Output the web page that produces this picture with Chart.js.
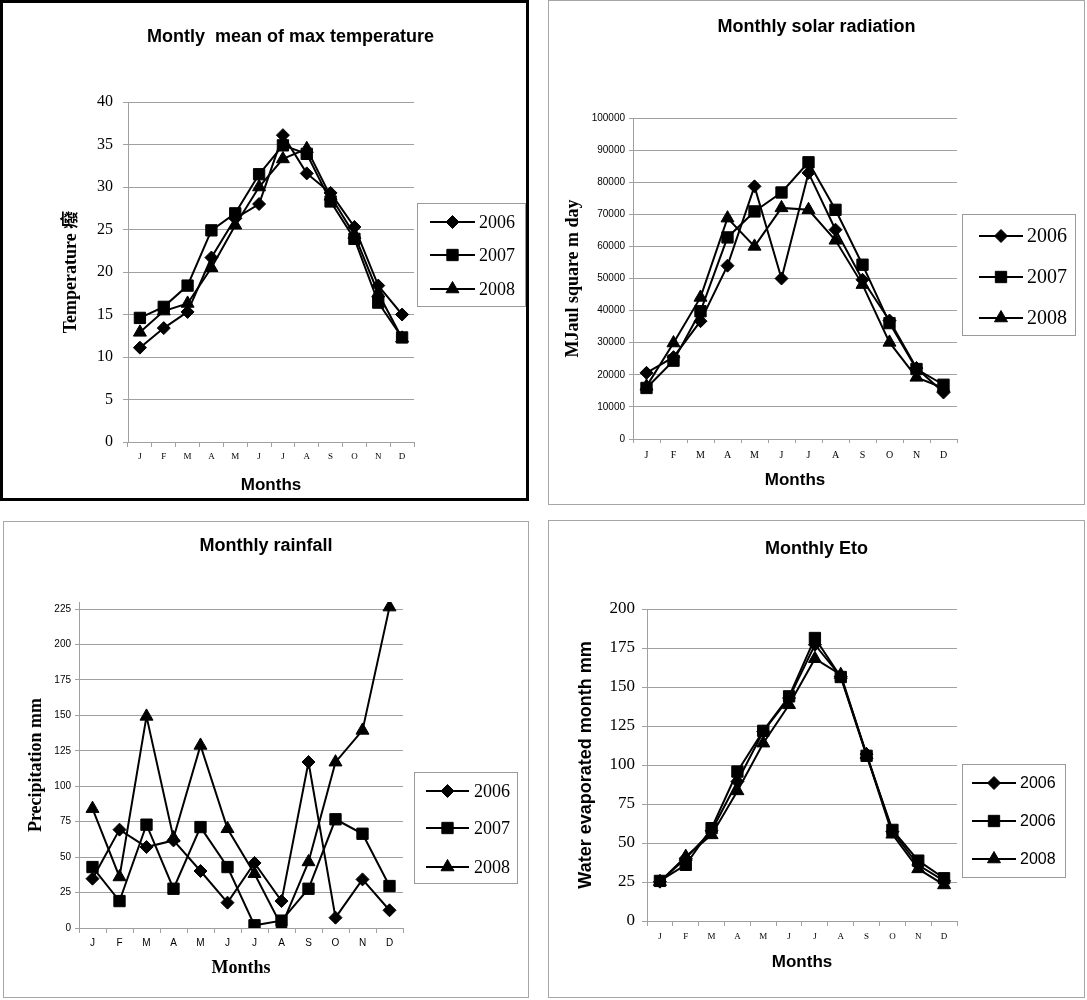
<!DOCTYPE html>
<html>
<head>
<meta charset="utf-8">
<script src="https://cdn.jsdelivr.net/npm/chart.js@4.4.1/dist/chart.umd.min.js"></script>
<style>
body { margin: 0; background: #fff; }
.panel { position: absolute; box-sizing: border-box; border: 1px solid #a6a6a6; background: #fff; }
.panel canvas { position: absolute; left: 0; top: 0; }
</style>
</head>
<body>
<div class="panel" style="left:0;top:0;width:529px;height:501px;border:3px solid #000"><canvas id="c1" width="523" height="495"></canvas></div>
<div class="panel" style="left:548px;top:0;width:537px;height:505px"><canvas id="c2" width="535" height="503"></canvas></div>
<div class="panel" style="left:3px;top:521px;width:526px;height:477px"><canvas id="c3" width="524" height="475"></canvas></div>
<div class="panel" style="left:548px;top:520px;width:537px;height:478px"><canvas id="c4" width="535" height="476"></canvas></div>
<script>
// datos
const meses = ['J', 'F', 'M', 'A', 'M', 'J', 'J', 'A', 'S', 'O', 'N', 'D'];

const temp2006 = [11.1, 13.4, 15.3, 21.7, 26.3, 28.0, 36.1, 31.6, 29.3, 25.3, 18.4, 15.0];
const temp2007 = [14.6, 15.9, 18.4, 24.9, 26.9, 31.5, 34.9, 33.9, 28.3, 23.9, 16.4, 12.3];
const temp2008 = [12.9, 15.4, 16.3, 20.5, 25.5, 30.0, 33.3, 34.5, 28.9, 24.4, 17.5, 12.2];

const solar2006 = [20600, 25500, 36700, 54000, 78700, 50000, 82900, 65200, 49600, 36900, 22100, 14500];
const solar2007 = [15900, 24400, 39800, 62800, 70900, 76800, 86200, 71400, 54300, 36100, 21800, 16900];
const solar2008 = [16400, 29900, 44100, 68800, 60000, 72000, 71400, 61900, 48100, 30100, 19200, 15900];

const lluvia2006 = [34.8, 69.4, 57.1, 61.8, 40.2, 17.9, 45.9, 19.0, 117.1, 7.3, 34.3, 12.5];
const lluvia2007 = [43, 19, 72.9, 27.7, 71.2, 43, 1.9, 5.2, 27.7, 76.7, 66.5, 29.6];
const lluvia2008 = [84.2, 36, 149.3, 63.5, 128.8, 70, 38.3, 1.5, 46.6, 117, 139.4, 226.4];

const eto2006 = [25.2, 40.2, 57.8, 89.4, 121.5, 142.9, 177.1, 156.8, 107, 57.3, 35.9, 25.7];
const eto2006b = [25.7, 36, 59.5, 95.8, 121.9, 144, 181.4, 156.4, 105.9, 58.4, 38.7, 27.4];
const eto2008 = [25.2, 41.3, 55.2, 83.4, 114, 138.6, 168.1, 157.9, 106.5, 55.6, 33.4, 23.1];

const SANS = "'Liberation Sans', Arial, sans-serif";
const SERIF = "'Liberation Serif', 'Times New Roman', 'Noto Sans CJK SC', serif";
const GRIS = '#a0a0a0';

const estilos = ['rectRot', 'rect', 'triangle'];
const radios = [6.5, 8, 7.5];

function marcador(ctx, estilo, r, x, y) {
    ctx.beginPath();
    if (estilo === 'rectRot') {
        ctx.moveTo(x, y - r); ctx.lineTo(x + r, y); ctx.lineTo(x, y + r); ctx.lineTo(x - r, y);
    } else if (estilo === 'rect') {
        const s = r * Math.SQRT1_2;
        ctx.rect(x - s, y - s, 2 * s, 2 * s);
    } else {
        ctx.moveTo(x, y - r);
        ctx.lineTo(x + r * Math.sin(2 * Math.PI / 3), y - r * Math.cos(2 * Math.PI / 3));
        ctx.lineTo(x + r * Math.sin(4 * Math.PI / 3), y - r * Math.cos(4 * Math.PI / 3));
    }
    ctx.closePath();
    ctx.fill();
    ctx.stroke();
}

// leyenda con caja, al estilo de Excel
const leyendaCaja = {
    id: 'leyendaCaja',
    afterDraw(chart, args, o) {
        const ctx = chart.ctx;
        ctx.save();
        ctx.strokeStyle = '#9a9a9a';
        ctx.lineWidth = 1;
        ctx.strokeRect(o.x + 0.5, o.y + 0.5, o.w, o.h);
        ctx.font = o.font;
        ctx.textBaseline = 'middle';
        chart.data.datasets.forEach((ds, i) => {
            const y = o.filas[i];
            ctx.strokeStyle = '#000';
            ctx.fillStyle = '#000';
            ctx.lineWidth = 2;
            ctx.beginPath();
            ctx.moveTo(o.x1, y);
            ctx.lineTo(o.x2, y);
            ctx.stroke();
            ctx.lineWidth = 1;
            marcador(ctx, ds.pointStyle, ds.pointRadius, (o.x1 + o.x2) / 2, y);
            ctx.fillText(ds.label, o.tx, y + 1);
        });
        ctx.restore();
    }
};

function crearGrafica(id, L, series) {
    const h = L.h, w = L.w;
    const lhT = L.titulo.size * 1.2;
    const lhY = L.tituloY.size * 1.2;
    const lhX = L.tituloX.size * 1.2;
    return new Chart(document.getElementById(id), {
        type: 'line',
        data: {
            labels: meses,
            datasets: series.map((s, i) => ({
                label: s.label,
                data: s.data,
                borderColor: '#000',
                backgroundColor: '#000',
                borderWidth: 2,
                pointStyle: estilos[i],
                pointRadius: radios[i],
                pointBackgroundColor: '#000',
                pointBorderColor: '#000',
                pointBorderWidth: 1,
                tension: 0,
                fill: false
            }))
        },
        options: {
            responsive: false,
            animation: false,
            events: [],
            layout: { padding: { left: L.padL, right: 0, top: 0, bottom: 0 } },
            plugins: {
                legend: { display: false },
                tooltip: { enabled: false },
                title: {
                    display: true,
                    text: L.titulo.text,
                    color: '#000',
                    font: { family: SANS, size: L.titulo.size, weight: 'bold' },
                    padding: { top: L.titulo.cy - lhT / 2, bottom: L.area.t - L.titulo.cy - lhT / 2 }
                },
                leyendaCaja: L.leyenda
            },
            scales: {
                x: {
                    type: 'category',
                    offset: true,
                    afterFit: (s) => { s.height = h - L.area.b; },
                    grid: { display: true, offset: true, drawOnChartArea: false, drawTicks: true, tickLength: L.ticksX.tl, color: GRIS },
                    border: { display: true, color: GRIS, width: 1 },
                    ticks: { color: '#000', padding: L.ticksX.pad, maxRotation: 0, autoSkip: false, font: { family: L.ticksX.family, size: L.ticksX.size } },
                    title: {
                        display: true, text: L.tituloX.text, color: '#000',
                        font: { family: L.tituloX.family, size: L.tituloX.size, weight: 'bold' },
                        padding: { top: 0, bottom: h - L.tituloX.cy - lhX / 2 }
                    }
                },
                y: {
                    min: L.ejeY.min,
                    max: L.ejeY.max,
                    afterFit: (s) => { s.width = L.area.l - L.padL; },
                    grid: { color: GRIS, tickLength: L.ticksY.tl, drawTicks: true },
                    border: { display: true, color: GRIS, width: 1 },
                    ticks: {
                        stepSize: L.ejeY.step,
                        includeBounds: false,
                        color: '#000',
                        padding: L.ticksY.pad,
                        font: { family: L.ticksY.family, size: L.ticksY.size },
                        callback: (v) => String(v)
                    },
                    title: {
                        display: true, text: L.tituloY.text, color: '#000',
                        font: { family: L.tituloY.family, size: L.tituloY.size, weight: 'bold' },
                        padding: { top: L.tituloY.cx - L.padL - lhY / 2, bottom: 0 }
                    }
                },
                yr: {
                    position: 'right',
                    display: true,
                    afterFit: (s) => { s.width = w - L.area.r; },
                    grid: { display: false, drawTicks: false },
                    border: { display: false },
                    ticks: { display: false }
                }
            }
        },
        plugins: [leyendaCaja]
    });
}

crearGrafica('c1', {
    w: 523, h: 495, padL: 52,
    area: { l: 125, r: 411, t: 99, b: 439 },
    titulo: { text: 'Montly  mean of max temperature', size: 18, cy: 34 },
    tituloY: { text: 'Temperature 癈', family: SERIF, size: 18, cx: 68 },
    tituloX: { text: 'Months', family: SANS, size: 17, cy: 482 },
    ticksY: { family: SERIF, size: 16, tl: 5, pad: 10 },
    ticksX: { family: SERIF, size: 9, tl: 5, pad: 4 },
    ejeY: { min: 0, max: 40, step: 5 },
    leyenda: { x: 414, y: 200, w: 108, h: 103, filas: [219, 252, 286], x1: 427, x2: 472, tx: 476, font: '18px ' + SERIF }
}, [
    { label: '2006', data: temp2006 },
    { label: '2007', data: temp2007 },
    { label: '2008', data: temp2008 }
]);

crearGrafica('c2', {
    w: 535, h: 503, padL: 0,
    area: { l: 84, r: 408, t: 117, b: 438 },
    titulo: { text: 'Monthly solar radiation', size: 18, cy: 26 },
    tituloY: { text: 'MJaul square m day', family: SERIF, size: 18, cx: 24 },
    tituloX: { text: 'Months', family: SANS, size: 17, cy: 479 },
    ticksY: { family: SANS, size: 10, tl: 4, pad: 4 },
    ticksX: { family: SERIF, size: 10, tl: 4, pad: 6 },
    ejeY: { min: 0, max: 100000, step: 10000 },
    leyenda: { x: 413, y: 213, w: 113, h: 121, filas: [235, 276, 317], x1: 430, x2: 474, tx: 478, font: '20px ' + SERIF }
}, [
    { label: '2006', data: solar2006 },
    { label: '2007', data: solar2007 },
    { label: '2008', data: solar2008 }
]);

crearGrafica('c3', {
    w: 524, h: 475, padL: 0,
    area: { l: 75, r: 399, t: 80, b: 406 },
    titulo: { text: 'Monthly rainfall', size: 18, cy: 24 },
    tituloY: { text: 'Precipitation mm', family: SERIF, size: 18, cx: 32 },
    tituloX: { text: 'Months', family: SERIF, size: 18, cy: 446 },
    ticksY: { family: SANS, size: 10, tl: 4, pad: 4 },
    ticksX: { family: SANS, size: 10, tl: 5, pad: 4 },
    ejeY: { min: 0, max: 230, step: 25 },
    leyenda: { x: 410, y: 250, w: 103, h: 111, filas: [269, 306, 345], x1: 422, x2: 465, tx: 470, font: '18px ' + SERIF }
}, [
    { label: '2006', data: lluvia2006 },
    { label: '2007', data: lluvia2007 },
    { label: '2008', data: lluvia2008 }
]);

crearGrafica('c4', {
    w: 535, h: 476, padL: 0,
    area: { l: 98, r: 408, t: 88, b: 400 },
    titulo: { text: 'Monthly Eto', size: 18, cy: 28 },
    tituloY: { text: 'Water evaporated month mm', family: SANS, size: 18, cx: 37 },
    tituloX: { text: 'Months', family: SANS, size: 17, cy: 441 },
    ticksY: { family: SERIF, size: 17, tl: 5, pad: 7 },
    ticksX: { family: SERIF, size: 9, tl: 5, pad: 5 },
    ejeY: { min: 0, max: 200, step: 25 },
    leyenda: { x: 413, y: 243, w: 103, h: 113, filas: [262, 300, 338], x1: 423, x2: 467, tx: 471, font: '16px ' + SANS }
}, [
    { label: '2006', data: eto2006 },
    { label: '2006', data: eto2006b },
    { label: '2008', data: eto2008 }
]);
</script>
</body>
</html>
